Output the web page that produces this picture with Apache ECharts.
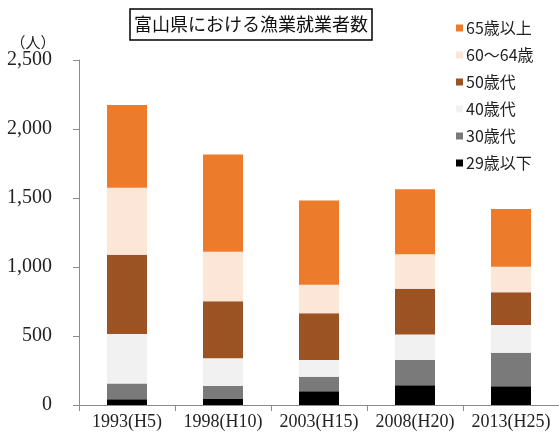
<!DOCTYPE html>
<html>
<head>
<meta charset="utf-8">
<script src="https://cdn.jsdelivr.net/npm/echarts@6/dist/echarts.min.js"></script>
<style>html,body{margin:0;padding:0;background:#fff}#c{width:559px;height:432px}</style>
</head>
<body>
<div id="c"></div>
<script>
var categories = ['1993(H5)', '1998(H10)', '2003(H15)', '2008(H20)', '2013(H25)'];
var under29 = [42, 48, 99, 143, 136];
var age30s = [113, 90, 106, 183, 243];
var age40s = [359, 200, 121, 184, 201];
var age50s = [575, 413, 338, 333, 237];
var age60to64 = [486, 360, 208, 249, 185];
var over65 = [599, 705, 609, 471, 418];
var seriesNames = ['29歳以下', '30歳代', '40歳代', '50歳代', '60～64歳', '65歳以上'];
var yTicks = [0, 500, 1000, 1500, 2000, 2500];

var colors = ['#000000', '#7a7a7a', '#f1f1f1', '#9c5324', '#fbe6d7', '#ec7b2b'];
var dataSets = [under29, age30s, age40s, age50s, age60to64, over65];

var chart = echarts.init(document.getElementById('c'));
var series = seriesNames.map(function (n, i) {
  return {
    name: n,
    type: 'bar',
    stack: 'total',
    barWidth: 40,
    data: dataSets[i],
    itemStyle: { color: colors[i] },
    emphasis: { disabled: true }
  };
});
chart.setOption({
  animation: false,
  title: {
    text: '富山県における漁業就業者数',
    left: 130,
    top: 9,
    padding: [6, 4, 7, 4],
    borderColor: '#000',
    borderWidth: 1.5,
    textStyle: { fontFamily: 'Noto Sans CJK JP', fontSize: 18, fontWeight: 'normal', color: '#111' }
  },
  legend: {
    orient: 'vertical',
    left: 451,
    top: 15,
    itemWidth: 7,
    itemHeight: 7,
    itemGap: 11,
    icon: 'rect',
    data: seriesNames.slice().reverse(),
    textStyle: { fontFamily: 'Noto Sans CJK JP', fontSize: 16, color: '#222', padding: [0, 0, 0, -2] }
  },
  grid: { left: 79, right: 0, top: 60, bottom: 27, containLabel: false },
  xAxis: {
    type: 'category',
    data: categories,
    axisLine: { lineStyle: { color: '#8c8c8c', width: 1 } },
    axisTick: { show: true, length: 6, lineStyle: { color: '#8c8c8c' } },
    axisLabel: { interval: 0, fontFamily: 'Liberation Serif', fontSize: 18, color: '#222', margin: 8 }
  },
  yAxis: {
    type: 'value',
    min: yTicks[0],
    max: yTicks[yTicks.length - 1],
    interval: 500,
    name: '（人）',
    nameLocation: 'end',
    nameGap: 10,
    nameTextStyle: { fontFamily: 'Noto Sans CJK JP', fontSize: 15, color: '#222', align: 'center', padding: [0, 0, 0, -92] },
    splitLine: { show: false },
    axisLine: { show: true, lineStyle: { color: '#8c8c8c', width: 1 } },
    axisTick: { show: true, length: 6, lineStyle: { color: '#8c8c8c' } },
    axisLabel: {
      fontFamily: 'Liberation Serif', fontSize: 20, color: '#222', margin: 27,
      formatter: function (v) { return String(v).replace(/\B(?=(\d{3})+(?!\d))/g, ','); }
    }
  },
  series: series
});
</script>
</body>
</html>
